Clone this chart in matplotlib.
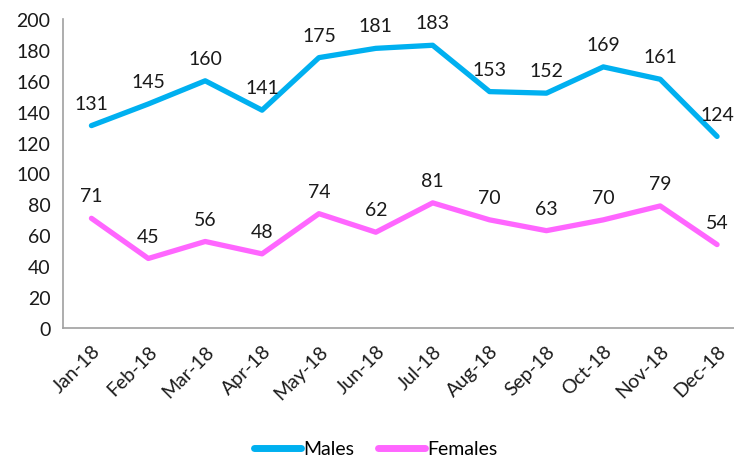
import matplotlib
matplotlib.use("Agg")
import matplotlib.pyplot as plt

months = ["Jan-18", "Feb-18", "Mar-18", "Apr-18", "May-18", "Jun-18",
          "Jul-18", "Aug-18", "Sep-18", "Oct-18", "Nov-18", "Dec-18"]
males = [131, 145, 160, 141, 175, 181, 183, 153, 152, 169, 161, 124]
females = [71, 45, 56, 48, 74, 62, 81, 70, 63, 70, 79, 54]
yticks = [0, 20, 40, 60, 80, 100, 120, 140, 160, 180, 200]

plt.rcParams['font.family'] = ['Lato', 'DejaVu Sans']

fig = plt.figure(figsize=(7.34, 4.64), dpi=100)
ax = fig.add_axes([63/734, 1-329/464, (745.5-63)/734, (329-20)/464])

x = list(range(len(months)))
ax.plot(x, males, color='#00B0F0', lw=3.8, solid_capstyle='round', label='Males')
ax.plot(x, females, color='#FF66FF', lw=3.8, solid_capstyle='round', label='Females')

for xi, v in zip(x, males):
    ax.annotate(str(v), (xi, v), xytext=(0, 10), textcoords='offset points',
                ha='center', va='bottom', fontsize=14, color='#1a1a1a')
for xi, v in zip(x, females):
    ax.annotate(str(v), (xi, v), xytext=(0, 10), textcoords='offset points',
                ha='center', va='bottom', fontsize=14, color='#1a1a1a')

ax.set_xlim(-0.5, 11.5)
ax.set_ylim(0, 200)
ax.set_yticks(yticks)
ax.set_xticks(x)
ax.set_xticklabels(months, rotation=45, ha='right', rotation_mode='anchor')
ax.tick_params(axis='both', length=0, labelsize=14, colors='#1a1a1a')
ax.tick_params(axis='y', pad=9)
ax.tick_params(axis='x', pad=10)
for s in ['top', 'right']:
    ax.spines[s].set_visible(False)
for s in ['left', 'bottom']:
    ax.spines[s].set_color('#a0a0a0')
    ax.spines[s].set_linewidth(1.2)

leg = fig.legend(loc='center', bbox_to_anchor=(376/734, 1-450/464), ncol=2,
                 frameon=False, fontsize=14, handlelength=2.4, columnspacing=1.2,
                 handletextpad=0.15)
for l in leg.get_lines():
    l.set_linewidth(5)

fig.savefig('out.png', dpi=100)
